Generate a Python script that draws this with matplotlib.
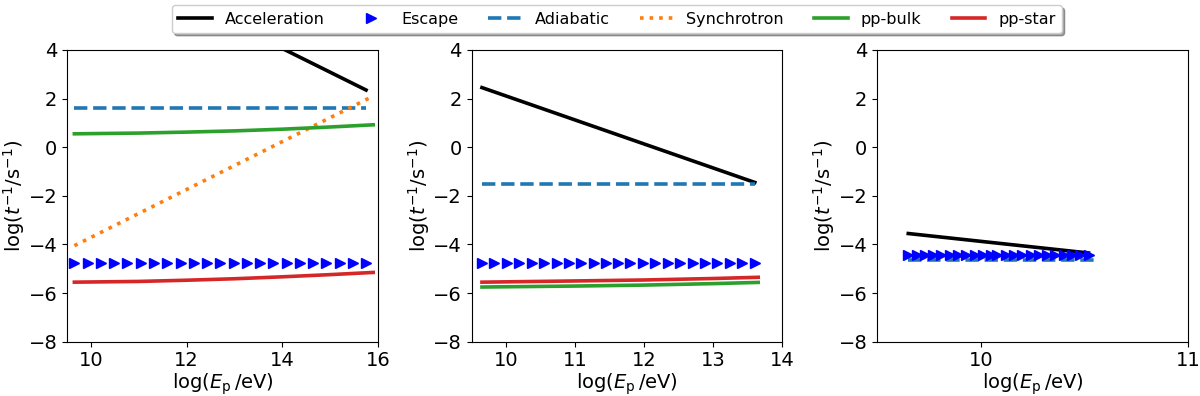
import matplotlib
matplotlib.use("Agg")
import matplotlib.pyplot as plt

# energy grids (log E_p / eV) per panel
x1 = [9.65, 9.93, 10.20, 10.48, 10.76, 11.04, 11.31, 11.59, 11.87, 12.15, 12.42, 12.70,
      12.98, 13.25, 13.53, 13.81, 14.09, 14.36, 14.64, 14.92, 15.20, 15.47, 15.75]
x2 = [9.65, 9.83, 10.01, 10.19, 10.37, 10.55, 10.73, 10.91, 11.09, 11.27, 11.45, 11.62,
      11.80, 11.98, 12.16, 12.34, 12.52, 12.70, 12.88, 13.06, 13.24, 13.42, 13.60]
x3 = [9.65, 9.69, 9.73, 9.77, 9.81, 9.85, 9.89, 9.93, 9.97, 10.01, 10.05, 10.08,
      10.12, 10.16, 10.20, 10.24, 10.28, 10.32, 10.36, 10.40, 10.44, 10.48, 10.52]

# panel 1
acc1_x, acc1 = [9.65, 15.75], [8.3, 2.35]
adi1_x, adi1 = [9.65, 15.75], [1.62, 1.62]
esc1 = [-4.75] * len(x1)
syn1_x, syn1 = [9.65, 15.9], [-4.05, 2.1]
pp1_x = [9.65, 11.0, 12.0, 13.0, 14.0, 15.0, 15.9]
ppbulk1 = [0.55, 0.58, 0.62, 0.67, 0.74, 0.83, 0.92]
ppstar1 = [-5.55, -5.52, -5.47, -5.41, -5.33, -5.24, -5.15]

# panel 2
acc2_x, acc2 = [9.65, 13.6], [2.45, -1.45]
adi2_x, adi2 = [9.65, 13.6], [-1.52, -1.52]
esc2 = [-4.75] * len(x2)
pp2_x = [9.65, 11.0, 12.0, 13.0, 13.65]
ppbulk2 = [-5.75, -5.71, -5.67, -5.61, -5.56]
ppstar2 = [-5.55, -5.50, -5.46, -5.40, -5.35]

# panel 3
acc3_x, acc3 = [9.65, 10.52], [-3.55, -4.35]
adi3_x, adi3 = [9.65, 10.55], [-4.62, -4.62]
esc3 = [-4.42] * len(x3)

LW = 2.6
MS = 7
fig = plt.figure(figsize=(12, 3.96), dpi=100)
plt.rcParams['font.size'] = 14

w, b, h = 0.259, 0.137, 0.737
lefts = [0.056, 0.393, 0.731]
axes = [fig.add_axes([l, b, w, h]) for l in lefts]

ax = axes[0]
ax.plot(acc1_x, acc1, color='black', lw=LW, label='Acceleration')
ax.plot(x1, esc1, ls='none', marker='>', color='blue', ms=MS, label='Escape')
ax.plot(adi1_x, adi1, color='tab:blue', ls='--', lw=LW, label='Adiabatic')
ax.plot(syn1_x, syn1, color='tab:orange', ls=':', lw=LW, label='Synchrotron')
ax.plot(pp1_x, ppbulk1, color='tab:green', lw=LW, label='pp-bulk')
ax.plot(pp1_x, ppstar1, color='tab:red', lw=LW, label='pp-star')
ax.set_xlim(9.5, 16)
ax.set_xticks([10, 12, 14, 16])

ax = axes[1]
ax.plot(acc2_x, acc2, color='black', lw=LW)
ax.plot(x2, esc2, ls='none', marker='>', color='blue', ms=MS)
ax.plot(adi2_x, adi2, color='tab:blue', ls='--', lw=LW)
ax.plot(pp2_x, ppbulk2, color='tab:green', lw=LW)
ax.plot(pp2_x, ppstar2, color='tab:red', lw=LW)
ax.set_xlim(9.5, 14)
ax.set_xticks([10, 11, 12, 13, 14])

ax = axes[2]
ax.plot(acc3_x, acc3, color='black', lw=LW)
ax.plot(adi3_x, adi3, color='tab:blue', ls='--', lw=LW)
ax.plot(x3, esc3, ls='none', marker='>', color='blue', ms=MS)
ax.set_xlim(9.5, 11)
ax.set_xticks([10, 11])

for ax in axes:
    ax.set_ylim(-8, 4)
    ax.set_yticks([-8, -6, -4, -2, 0, 2, 4])
    ax.set_xlabel(r'log($E_{\rm p}\,$/eV)', labelpad=1)
    ax.set_ylabel(r'log($t^{-1}$/s$^{-1}$)', labelpad=1)

handles, labels = axes[0].get_legend_handles_labels()
fig.legend(handles, labels, loc='upper center', bbox_to_anchor=(0.514, 0.995),
           ncol=6, fontsize=11.5, shadow=True, handlelength=2.1, columnspacing=1.9,
           borderaxespad=0.2)

fig.savefig('out.png', dpi=100)
